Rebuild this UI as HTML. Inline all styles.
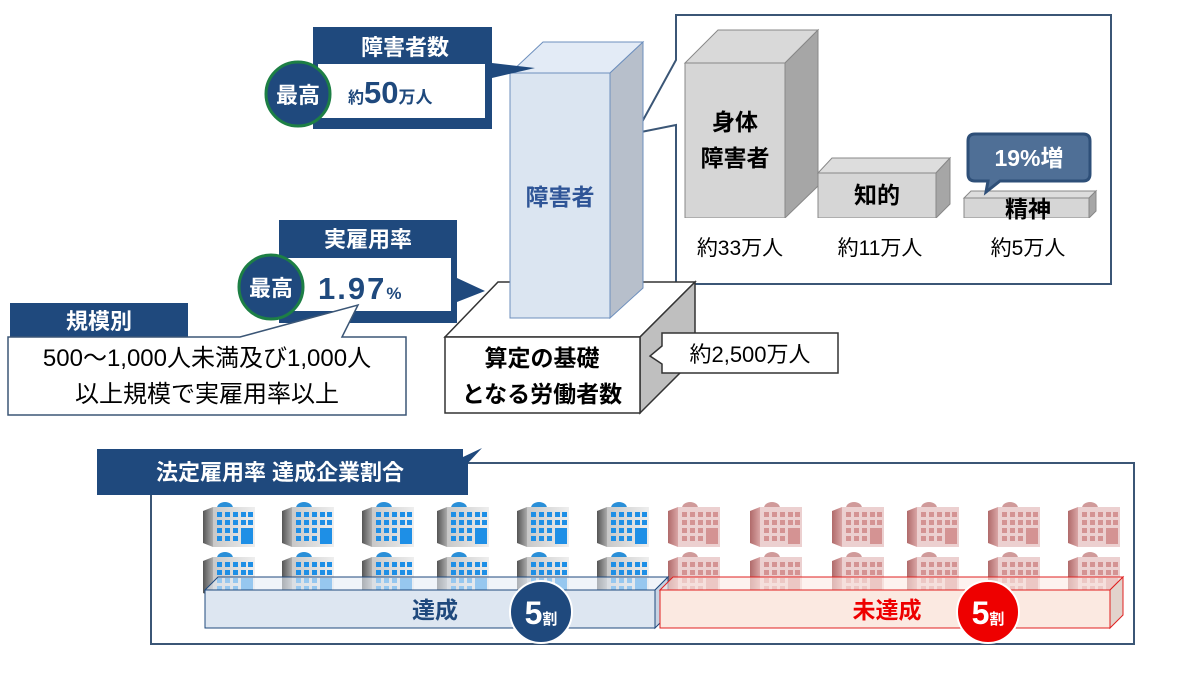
<!DOCTYPE html>
<html><head><meta charset="utf-8"><style>
html,body{margin:0;padding:0;background:#fff;}
svg{display:block;font-family:"Liberation Sans","Noto Sans CJK JP",sans-serif;}
.b{font-weight:bold;}
</style></head><body>
<svg width="1200" height="675" viewBox="0 0 1200 675" xmlns="http://www.w3.org/2000/svg">
<defs>
<linearGradient id="gs" x1="0" x2="1"><stop offset="0" stop-color="#555"/><stop offset="1" stop-color="#aaa"/></linearGradient>
<linearGradient id="gf" x1="0" x2="1"><stop offset="0" stop-color="#c8c8c8"/><stop offset="1" stop-color="#eee"/></linearGradient>
<linearGradient id="rs" x1="0" x2="1"><stop offset="0" stop-color="#b06a6a"/><stop offset="1" stop-color="#d9a5a5"/></linearGradient>
<symbol id="bb" viewBox="0 0 52 46" width="52" height="46">
<ellipse cx="22" cy="7" rx="8" ry="6" fill="#2a8fd8"/>
<polygon points="0,10 10,6 10,46 0,42" fill="url(#gs)"/>
<rect x="10" y="6" width="42" height="40" fill="url(#gf)"/>
<g fill="#1e8fe6">
<rect x="14" y="11" width="5" height="5"/><rect x="22" y="11" width="5" height="5"/><rect x="30" y="11" width="5" height="5"/><rect x="38" y="11" width="5" height="5"/><rect x="45" y="11" width="5" height="5"/>
<rect x="14" y="19" width="5" height="5"/><rect x="22" y="19" width="5" height="5"/><rect x="30" y="19" width="5" height="5"/><rect x="38" y="19" width="5" height="5"/><rect x="45" y="19" width="5" height="5"/>
<rect x="14" y="27" width="5" height="5"/><rect x="22" y="27" width="5" height="5"/><rect x="30" y="27" width="5" height="5"/><rect x="38" y="27" width="12" height="16"/>
<rect x="14" y="35" width="5" height="5"/><rect x="22" y="35" width="5" height="5"/><rect x="30" y="35" width="5" height="5"/>
</g></symbol>
<symbol id="rb" viewBox="0 0 52 46" width="52" height="46">
<ellipse cx="22" cy="7" rx="8" ry="6" fill="#d09a9a"/>
<polygon points="0,10 10,6 10,46 0,42" fill="url(#rs)"/>
<rect x="10" y="6" width="42" height="40" fill="#ecd0d0"/>
<g fill="#d49393">
<rect x="14" y="11" width="5" height="5"/><rect x="22" y="11" width="5" height="5"/><rect x="30" y="11" width="5" height="5"/><rect x="38" y="11" width="5" height="5"/><rect x="45" y="11" width="5" height="5"/>
<rect x="14" y="19" width="5" height="5"/><rect x="22" y="19" width="5" height="5"/><rect x="30" y="19" width="5" height="5"/><rect x="38" y="19" width="5" height="5"/><rect x="45" y="19" width="5" height="5"/>
<rect x="14" y="27" width="5" height="5"/><rect x="22" y="27" width="5" height="5"/><rect x="30" y="27" width="5" height="5"/><rect x="38" y="27" width="12" height="16"/>
<rect x="14" y="35" width="5" height="5"/><rect x="22" y="35" width="5" height="5"/><rect x="30" y="35" width="5" height="5"/>
</g></symbol>
</defs>

<path d="M676,15 H1111 V284 H676 V125 L636,133 L676,60 Z" fill="#fff" stroke="#3b5676" stroke-width="2"/>
<polygon points="685,63 785,63 818,30 718,30" fill="#d9d9d9" stroke="#888"/>
<polygon points="785,63 818,30 818,186 785,218" fill="#a6a6a6" stroke="#888"/>
<rect x="685" y="63" width="100" height="155" fill="#d6d6d6" stroke="#888"/>
<polygon points="818,173 936,173 950,158 832,158" fill="#ddd" stroke="#888"/>
<polygon points="936,173 950,158 950,204 936,218" fill="#a6a6a6" stroke="#888"/>
<rect x="818" y="173" width="118" height="45" fill="#d6d6d6" stroke="#888"/>
<polygon points="964,198 1089,198 1096,191 971,191" fill="#ddd" stroke="#888"/>
<polygon points="1089,198 1096,191 1096,211 1089,218" fill="#a6a6a6" stroke="#888"/>
<rect x="964" y="198" width="125" height="20" fill="#d6d6d6" stroke="#888"/>
<rect x="684" y="218" width="420" height="3" fill="#fff"/>
<text x="735" y="130" text-anchor="middle" class="b" font-size="23">身体</text>
<text x="735" y="166" text-anchor="middle" class="b" font-size="23">障害者</text>
<text x="877" y="203" text-anchor="middle" class="b" font-size="23">知的</text>
<text x="1028" y="217" text-anchor="middle" class="b" font-size="23">精神</text>
<path d="M975,134 H1083 Q1090,134 1090,141 V174 Q1090,181 1083,181 H1000 L986,192 L988,181 H975 Q968,181 968,174 V141 Q968,134 975,134 Z" fill="#4f6f96" stroke="#2e4f78" stroke-width="3"/>
<text x="1029" y="166" text-anchor="middle" class="b" font-size="23" fill="#fff">19%増</text>
<text x="740" y="255" text-anchor="middle" font-size="21">約33万人</text>
<text x="880" y="255" text-anchor="middle" font-size="21">約11万人</text>
<text x="1028" y="255" text-anchor="middle" font-size="21">約5万人</text>

<polygon points="445,337 640,337 695,282 498,282" fill="#fff" stroke="#333" stroke-width="1.5"/>
<polygon points="640,337 695,282 695,358 640,413" fill="#bfbfbf" stroke="#333" stroke-width="1.5"/>
<rect x="445" y="337" width="195" height="76" fill="#fff" stroke="#333" stroke-width="1.5"/>
<text x="542" y="366" text-anchor="middle" class="b" font-size="23">算定の基礎</text>
<text x="542" y="402" text-anchor="middle" class="b" font-size="23">となる労働者数</text>
<polygon points="510,73 610,73 643,42 543,42" fill="#e3ebf6" stroke="#6d8fbd"/>
<polygon points="610,73 643,42 643,288 610,318" fill="#b7bfcb" stroke="#6d8fbd"/>
<rect x="510" y="73" width="100" height="245" fill="#dbe5f1" stroke="#6d8fbd"/>
<text x="560" y="205" text-anchor="middle" class="b" font-size="23" fill="#2f5597">障害者</text>
<path d="M662,333 H838 V373 H662 V364 L650,356 L662,346 Z" fill="#fff" stroke="#333" stroke-width="1.5"/>
<text x="750" y="362" text-anchor="middle" font-size="22">約2,500万人</text>

<path d="M313,27 H492 V63 L535,68 L492,78 V129 H313 Z" fill="#1f497d"/>
<rect x="318" y="64" width="167" height="54" fill="#fff"/>
<text x="405" y="55" text-anchor="middle" class="b" font-size="22" fill="#fff">障害者数</text>
<text x="348" y="103" class="b" font-size="16" fill="#1f497d">約<tspan font-size="31">50</tspan><tspan font-size="17">万人</tspan></text>
<circle cx="298" cy="94" r="32" fill="#1f497d" stroke="#1d7f45" stroke-width="3"/>
<text x="298" y="103" text-anchor="middle" class="b" font-size="22" fill="#fff">最高</text>

<path d="M279,220 H457 V278 L485,291 L457,302 V323 H279 Z" fill="#1f497d"/>
<rect x="279" y="258" width="172" height="53" fill="#fff"/>
<text x="368" y="247" text-anchor="middle" class="b" font-size="22" fill="#fff">実雇用率</text>
<text x="318" y="299" class="b" font-size="31" fill="#1f497d" letter-spacing="2">1.97<tspan font-size="17" letter-spacing="0">%</tspan></text>
<circle cx="271" cy="287" r="32" fill="#1f497d" stroke="#1d7f45" stroke-width="3"/>
<text x="271" y="296" text-anchor="middle" class="b" font-size="22" fill="#fff">最高</text>

<rect x="10" y="303" width="178" height="35" fill="#1f497d"/>
<text x="99" y="329" text-anchor="middle" class="b" font-size="22" fill="#fff">規模別</text>
<path d="M8,337 H240 L358,305 L342,337 H406 V415 H8 Z" fill="#fff" stroke="#3b5676" stroke-width="1.5"/>
<text x="207" y="366" text-anchor="middle" font-size="24">500～1,000人未満及び1,000人</text>
<text x="207" y="402" text-anchor="middle" font-size="24">以上規模で実雇用率以上</text>

<rect x="151" y="463" width="983" height="181" fill="#fff" stroke="#3b5676" stroke-width="2"/>
<path d="M97,449 H463 V457 L482,448 L468,463 V495 H97 Z" fill="#1f497d"/>
<text x="280" y="480" text-anchor="middle" class="b" font-size="22" fill="#fff">法定雇用率 達成企業割合</text>

<use href="#bb" x="203" y="501"/><use href="#bb" x="282" y="501"/><use href="#bb" x="362" y="501"/><use href="#bb" x="437" y="501"/><use href="#bb" x="517" y="501"/><use href="#bb" x="597" y="501"/>
<use href="#bb" x="203" y="551"/><use href="#bb" x="282" y="551"/><use href="#bb" x="362" y="551"/><use href="#bb" x="437" y="551"/><use href="#bb" x="517" y="551"/><use href="#bb" x="597" y="551"/>
<use href="#rb" x="668" y="501"/><use href="#rb" x="750" y="501"/><use href="#rb" x="832" y="501"/><use href="#rb" x="907" y="501"/><use href="#rb" x="988" y="501"/><use href="#rb" x="1068" y="501"/>
<use href="#rb" x="668" y="551"/><use href="#rb" x="750" y="551"/><use href="#rb" x="832" y="551"/><use href="#rb" x="907" y="551"/><use href="#rb" x="988" y="551"/><use href="#rb" x="1068" y="551"/>

<polygon points="205,590 655,590 668,577 218,577" fill="#e6ecf5" fill-opacity="0.6" stroke="#1f497d"/>
<polygon points="655,590 668,577 668,615 655,628" fill="#c7d3e3" stroke="#1f497d"/>
<rect x="205" y="590" width="450" height="38" fill="#dde6f1" stroke="#1f497d"/>
<polygon points="660,590 1110,590 1123,577 673,577" fill="#fbeae4" fill-opacity="0.6" stroke="#e02020"/>
<polygon points="1110,590 1123,577 1123,615 1110,628" fill="#e2d3cc" stroke="#e02020"/>
<rect x="660" y="590" width="450" height="38" fill="#fbe9e1" stroke="#e02020"/>
<text x="435" y="618" text-anchor="middle" class="b" font-size="23" fill="#1f497d">達成</text>
<text x="887" y="618" text-anchor="middle" class="b" font-size="23" fill="#ee0000">未達成</text>
<circle cx="541" cy="612" r="31" fill="#1f497d" stroke="#fff" stroke-width="2"/>
<text x="541" y="624" text-anchor="middle" class="b" fill="#fff"><tspan font-size="32">5</tspan><tspan font-size="15">割</tspan></text>
<circle cx="988" cy="612" r="31" fill="#ee0000" stroke="#fff" stroke-width="2"/>
<text x="988" y="624" text-anchor="middle" class="b" fill="#fff"><tspan font-size="32">5</tspan><tspan font-size="15">割</tspan></text>
</svg>
</body></html>
